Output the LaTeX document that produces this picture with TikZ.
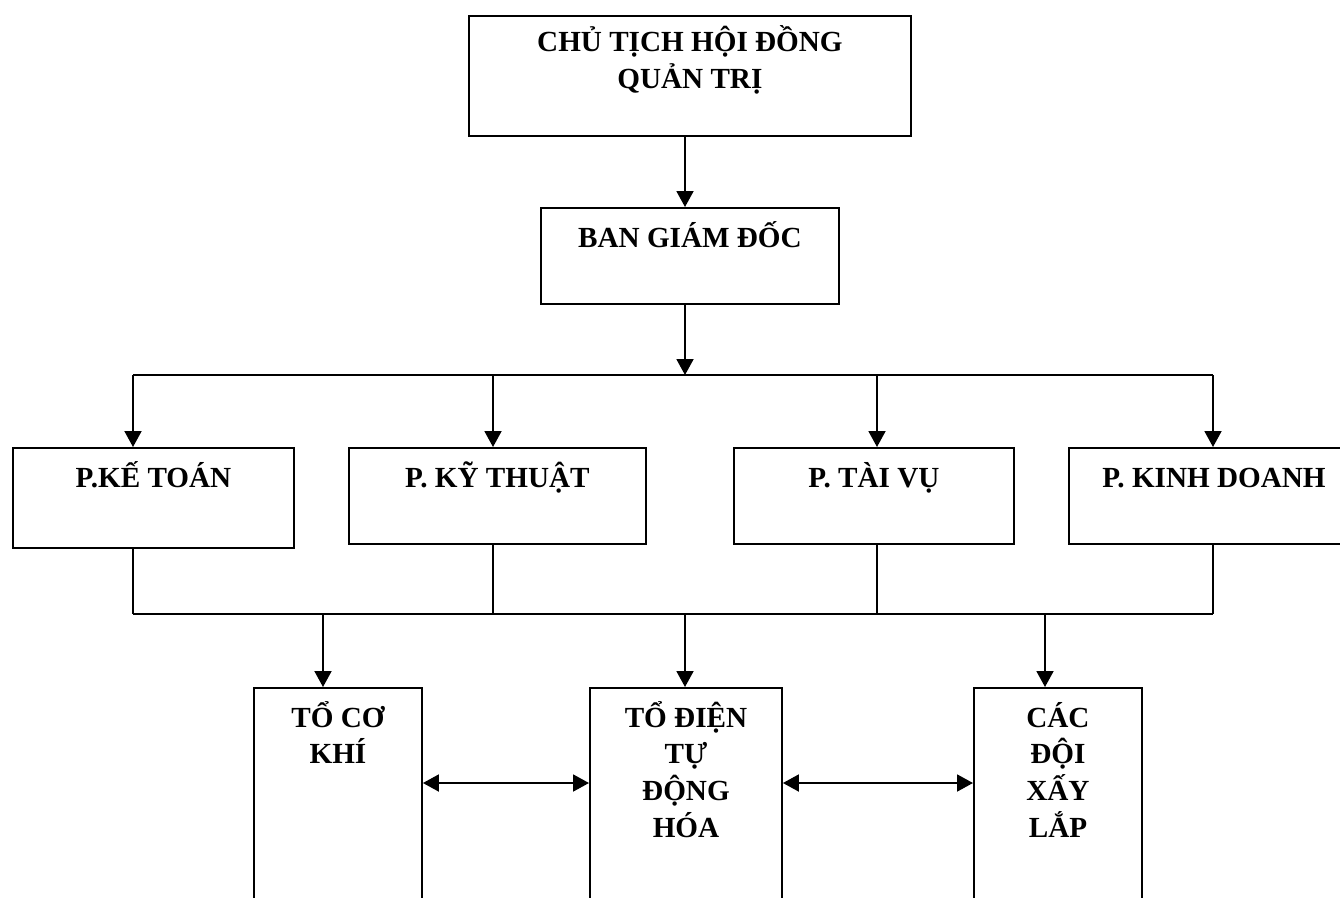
\documentclass[tikz,border=0pt]{standalone}
\usepackage{fontspec}
\setmainfont{Liberation Serif}
\usetikzlibrary{arrows.meta,positioning}

\tikzset{
  box/.style={draw,line width=1.1pt,inner sep=0pt,anchor=north west},
  txt/.style={font=\fontsize{16.6}{21}\selectfont\bfseries,align=center,anchor=base,inner sep=0pt},
  link/.style={line width=1.1pt},
}

\begin{document}
\begin{tikzpicture}[x=0.02cm,y=-0.02cm,>={Triangle[length=0.32cm,width=0.34cm]}]
  \useasboundingbox (0,0) rectangle (1340,897);
  \clip (0,0) rectangle (1340,897);

  % Board and directors (base anchor = last line)
  \node[box,minimum width=8.84cm,minimum height=2.4cm] (chutich) at (468,15) {};
  \node[txt] (chuticht) at ([yshift=-1.47cm]chutich.north) {CHỦ TỊCH HỘI ĐỒNG\\QUẢN TRỊ};
  \node[box,minimum width=5.96cm,minimum height=1.92cm] (bgd) at (540,207) {};
  \node[txt] (bgdt) at ([yshift=-0.8cm]bgd.north) {BAN GIÁM ĐỐC};

  % Departments
  \foreach \n/\x/\w/\h/\lab in {ketoan/12/281/100/P.KẾ TOÁN,kythuat/348/297/96/P. KỸ THUẬT,taivu/733/280/96/P. TÀI VỤ,kinhdoanh/1068/290/96/P. KINH DOANH} {%
    \node[box,minimum width={\w*0.02cm},minimum height={\h*0.02cm}] (\n) at (\x,447) {};
    \node[txt] (\n t) at ([yshift=-0.8cm]\n.north) {\lab};
  }

  % Teams (boxes run off the bottom)
  \foreach \n/\x/\w/\k/\lab in {cokhi/253/168/2/TỔ CƠ\\KHÍ,dien/589/192/4/TỔ ĐIỆN\\TỰ\\ĐỘNG\\HÓA,xaylap/973/168/4/CÁC\\ĐỘI\\XẤY\\LẮP} {%
    \node[box,minimum width={\w*0.02cm},minimum height=5.2cm] (\n) at (\x,687) {};
    \node[txt] (\n t) at ([yshift={-0.8cm-(\k-1)*21pt}]\n.north) {\lab};
  }

  % Junction points
  \coordinate (top) at (685,375);
  \coordinate (d1) at (133,375);
  \coordinate (d2) at (493,375);
  \coordinate (d3) at (877,375);
  \coordinate (d4) at (1213,375);
  \coordinate (e1) at (133,614);
  \coordinate (e4) at (1213,614);
  \coordinate (f1) at (323,614);
  \coordinate (f2) at (685,614);
  \coordinate (f3) at (1045,614);
  \coordinate (mid) at (0,783);

  % Top-down arrows
  \draw[link,->] (chutich.south -| top) -- (bgd.north -| top);
  \draw[link,->] (bgd.south -| top) -- (top);
  \draw[link] (d1) -- (d4);
  \foreach \i/\n in {1/ketoan,2/kythuat,3/taivu,4/kinhdoanh} {%
    \draw[link,->] (d\i) -- (d\i |- \n.north);
    \draw[link] (d\i |- \n.south) -- (d\i |- e1);
  }
  \draw[link] (e1) -- (e4);
  \foreach \i/\n in {1/cokhi,2/dien,3/xaylap} {%
    \draw[link,->] (f\i) -- (f\i |- \n.north);
  }

  % Between teams
  \draw[link,<->] (cokhi.east |- mid) -- (dien.west |- mid);
  \draw[link,<->] (dien.east |- mid) -- (xaylap.west |- mid);

\end{tikzpicture}
\end{document}
